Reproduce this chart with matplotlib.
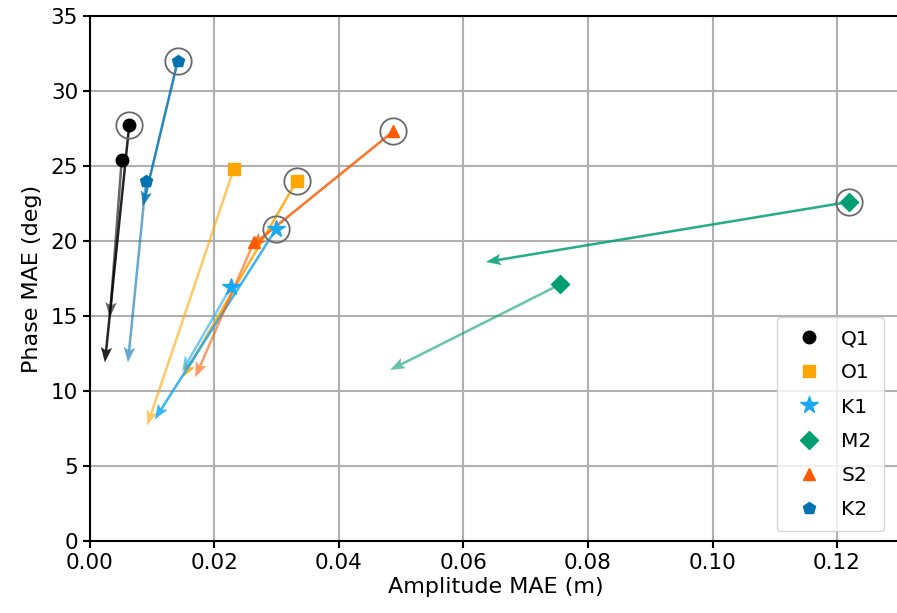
import matplotlib
matplotlib.use('Agg')
import numpy as np
import matplotlib.pyplot as plt

# constituents
names   = ['Q1', 'O1', 'K1', 'M2', 'S2', 'K2']
colors  = ['black', '#FFA500', '#1AA9F0', '#009E73', '#FF5A00', '#0072B2']
markers = ['o', 's', '*', 'D', '^', 'p']

# circled points (amplitude MAE [m], phase MAE [deg]) and where their arrows end
amp_c   = [0.0063, 0.0332, 0.0299, 0.1219, 0.0487, 0.0141]
pha_c   = [27.7, 24.0, 20.8, 22.6, 27.3, 32.0]
amp_c2  = [0.0024, 0.0149, 0.0104, 0.0636, 0.0258, 0.0085]
pha_c2  = [11.9, 10.9, 8.1, 18.6, 19.6, 22.3]

# plain points and where their arrows end
amp_p   = [0.0051, 0.0231, 0.0226, 0.0755, 0.0263, 0.0090]
pha_p   = [25.4, 24.8, 16.9, 17.1, 19.9, 24.0]
amp_p2  = [0.0032, 0.0092, 0.0148, 0.0482, 0.0169, 0.0061]
pha_p2  = [14.9, 7.7, 11.3, 11.4, 10.9, 11.9]

fig = plt.figure(figsize=(8.97, 6.13), dpi=100)
ax = fig.add_axes([0.1003, 0.1175, 0.905, 0.8565])

for i, name in enumerate(names):
    c = colors[i]
    ax.quiver(amp_c[i], pha_c[i], amp_c2[i]-amp_c[i], pha_c2[i]-pha_c[i],
              angles='xy', scale_units='xy', scale=1, color=c, alpha=0.85,
              width=0.0031, headwidth=4.5, headlength=6, headaxislength=5, zorder=3)
    ax.quiver(amp_p[i], pha_p[i], amp_p2[i]-amp_p[i], pha_p2[i]-pha_p[i],
              angles='xy', scale_units='xy', scale=1, color=c, alpha=0.6,
              width=0.0031, headwidth=4.5, headlength=6, headaxislength=5, zorder=3)
    ms = 13 if markers[i] == '*' else 9
    ax.plot(amp_c[i], pha_c[i], marker=markers[i], color=c, ms=ms,
            linestyle='none', zorder=5, label=name)
    ax.plot(amp_c[i], pha_c[i], marker='o', mfc='none', mec='#6a6a6a',
            mew=1.3, ms=19, linestyle='none', zorder=5)
    ax.plot(amp_p[i], pha_p[i], marker=markers[i], color=c, ms=ms,
            linestyle='none', zorder=5)

ax.set_xlim(0, 0.1304)
ax.set_ylim(0, 35)
ax.set_xticks(np.arange(0, 0.121, 0.02))
ax.set_yticks(np.arange(0, 36, 5))
ax.grid(True, color='#b0b0b0', linewidth=1.5)
ax.set_axisbelow(True)
for s in ax.spines.values():
    s.set_linewidth(1.5)
ax.tick_params(labelsize=15.5, width=1.5, length=5)
ax.set_xlabel('Amplitude MAE (m)', fontsize=16, labelpad=3)
ax.set_ylabel('Phase MAE (deg)', fontsize=16, labelpad=6)
ax.legend(loc='lower right', fontsize=14.5, bbox_to_anchor=(0.99, 0.0),
          handletextpad=0.6, borderpad=0.6, labelspacing=0.75)

fig.savefig('out.png', dpi=100)
